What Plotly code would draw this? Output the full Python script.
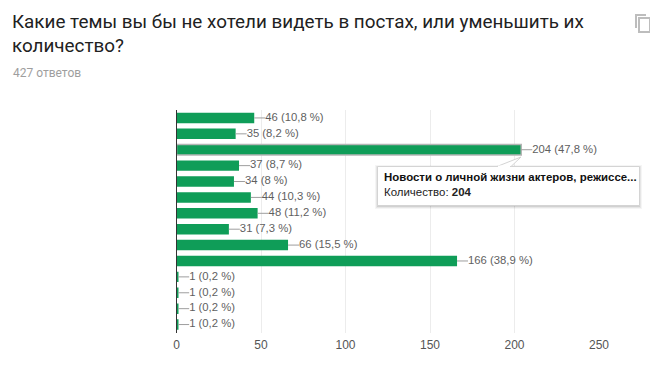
import plotly.graph_objects as go

W, H = 650, 365
PLOT_L, PLOT_R, PLOT_T, PLOT_B = 176.5, 599.0, 110.0, 332.5

categories = ["Тема 1", "Тема 2", "Новости о личной жизни актеров, режиссе...", "Тема 4", "Тема 5",
              "Тема 6", "Тема 7", "Тема 8", "Тема 9", "Тема 10", "Тема 11", "Тема 12", "Тема 13", "Тема 14"]
values = [46, 35, 204, 37, 34, 44, 48, 31, 66, 166, 1, 1, 1, 1]
labels = ["46 (10,8 %)", "35 (8,2 %)", "204 (47,8 %)", "37 (8,7 %)", "34 (8 %)", "44 (10,3 %)",
          "48 (11,2 %)", "31 (7,3 %)", "66 (15,5 %)", "166 (38,9 %)", "1 (0,2 %)", "1 (0,2 %)",
          "1 (0,2 %)", "1 (0,2 %)"]
x_ticks = [0, 50, 100, 150, 200, 250]
title_lines = ["Какие темы вы бы не хотели видеть в постах, или уменьшить их", "количество?"]
subtitle = "427 ответов"
tooltip_title = "Новости о личной жизни актеров, режиссе..."
tooltip_label = "Количество: "
tooltip_value = 204
highlight = 2
leader_units = 6.5

GREEN = "#0f9d58"
px = lambda x: x / W
py = lambda y: 1 - y / H

fig = go.Figure()
fig.add_trace(go.Bar(
    y=categories, x=values, orientation="h",
    marker=dict(color=GREEN,
                line=dict(color=["#b5b5b5" if i == highlight else "rgba(0,0,0,0)" for i in range(len(values))],
                          width=[1.5 if i == highlight else 0 for i in range(len(values))])),
    error_x=dict(type="data", symmetric=False, array=[leader_units] * len(values),
                 arrayminus=[0] * len(values), color="#9e9e9e", thickness=1, width=0),
    hoverinfo="skip", showlegend=False, cliponaxis=False,
))
fig.add_trace(go.Scatter(
    y=categories, x=[v + leader_units for v in values], mode="text", text=labels,
    textposition="middle right",
    textfont=dict(family="Liberation Sans, Arial", size=11.3, color="#5f5f5f"),
    hoverinfo="skip", showlegend=False, cliponaxis=False,
))


def rect(x0, y0, x1, y1, **kw):
    return dict(type="rect", xref="paper", yref="paper", x0=px(x0), x1=px(x1), y0=py(y0), y1=py(y1), **kw)


shapes = []
# Tooltip shadow, pointer and box
for off, col in ((3, "rgba(0,0,0,0.04)"), (2, "rgba(0,0,0,0.06)"), (1, "rgba(0,0,0,0.09)")):
    shapes.append(rect(377 - off + 1, 166 - off + 2, 640 + off - 1, 206 + off, fillcolor=col, line=dict(width=0), layer="above"))
shapes.append(rect(377.5, 166.5, 639.5, 205.5, fillcolor="white", line=dict(color="#d4d4d4", width=1), layer="above"))
a = lambda x, y: f"{px(x)} {py(y)}"
shapes.append(dict(type="path", xref="paper", yref="paper",
                   path=f"M{a(497,166.5)} L{a(521,157)} L{a(511,166.5)} Z",
                   fillcolor="white", line=dict(color="#d4d4d4", width=1), layer="above"))
shapes.append(dict(type="line", xref="paper", yref="paper", x0=px(498), x1=px(510), y0=py(166.5), y1=py(166.5),
                   line=dict(color="white", width=2), layer="above"))
# Copy icon
shapes.append(rect(639, 18, 650, 32, fillcolor="white", line=dict(color="#bdbdbd", width=2), layer="above"))
shapes.append(dict(type="path", xref="paper", yref="paper",
                   path=f"M{a(636,28)} L{a(636,15)} L{a(646,15)}",
                   line=dict(color="#bdbdbd", width=2), layer="above"))

annotations = [
    dict(x=px(9.5), y=py(21.5), text=title_lines[0], font=dict(family="Roboto", size=18.85, color="#212121")),
    dict(x=px(9.5), y=py(46.5), text=title_lines[1], font=dict(family="Roboto", size=18.85, color="#212121")),
    dict(x=px(11), y=py(73), text=subtitle, font=dict(family="Roboto", size=12, color="#9e9e9e")),
    dict(x=px(382), y=py(176.5), text=f"<b>{tooltip_title}</b>", font=dict(family="Liberation Sans, Arial", size=11.45, color="#111111")),
    dict(x=px(382), y=py(192), text=f"{tooltip_label}<b>{tooltip_value}</b>", font=dict(family="Liberation Sans, Arial", size=11.45, color="#222222")),
]
for an in annotations:
    an.update(xref="paper", yref="paper", xanchor="left", yanchor="middle", showarrow=False, align="left")

fig.update_layout(
    width=W, height=H, margin=dict(l=0, r=0, t=0, b=0, autoexpand=False),
    paper_bgcolor="white", plot_bgcolor="white", bargap=0.34,
    xaxis=dict(domain=[px(PLOT_L), px(PLOT_R)], range=[0, 250], tickvals=x_ticks, gridcolor="#ececec", gridwidth=1,
               zeroline=False, showline=False, ticks="", ticklen=0, ticklabelstandoff=3,
               tickfont=dict(family="Liberation Sans, Arial", size=12, color="#555555")),
    yaxis=dict(domain=[py(PLOT_B), py(PLOT_T)], range=[len(categories) - 0.5, -0.5], showticklabels=False, ticks="",
               showgrid=False, showline=True, linecolor="#333333", linewidth=1, zeroline=False),
    shapes=shapes, annotations=annotations,
)
fig.write_html("out.html", config={"displayModeBar": False},
               post_script="document.body.style.margin='0';")
